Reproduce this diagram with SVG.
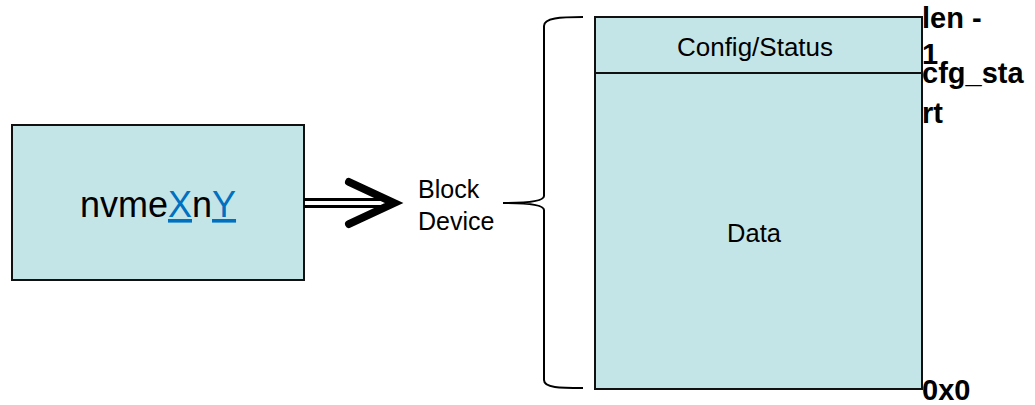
<svg xmlns="http://www.w3.org/2000/svg" width="1035" height="405" viewBox="0 0 1035 405">
  <style>
    .box { fill: #c4e5e8; stroke: #111; stroke-width: 2; }
    .lbl { font-family: "Liberation Sans", Arial, sans-serif; fill: #000; }
    .addr { font-family: "Liberation Sans", Arial, sans-serif; font-weight: bold; font-size: 29px; fill: #000; }
    .link { fill: #0070c0; }
  </style>
  <rect width="1035" height="405" fill="#fff"/>

  <!-- device node -->
  <g id="nvme-device">
    <rect class="box" x="12" y="125" width="292" height="155"/>
    <text class="lbl" x="158" y="217" font-size="36" text-anchor="middle">nvme<tspan class="link" text-decoration="underline">X</tspan>n<tspan class="link" text-decoration="underline">Y</tspan></text>
  </g>

  <!-- connectors -->
  <g id="connectors" fill="none" stroke="#000">
    <line x1="304" y1="199.5" x2="386" y2="199.5" stroke-width="3"/>
    <line x1="304" y1="206.5" x2="386" y2="206.5" stroke-width="3"/>
    <polyline points="349,182 394,203 349,224" stroke-width="8" stroke-linecap="round" stroke-linejoin="miter"/>
    <!-- brace spanning the block device layout -->
    <path d="M583,17 C560,17 544,18 544,26 L544,196 C544,200 535,203 503,203 C535,203 544,206 544,210 L544,380 C544,388 560,388 583,388" stroke-width="2"/>
  </g>

  <g id="block-device-label">
    <text class="lbl" x="418" y="198" font-size="25">Block</text>
    <text class="lbl" x="418" y="230" font-size="25">Device</text>
  </g>

  <!-- on-disk layout -->
  <g id="layout">
    <rect class="box" x="595" y="17" width="327" height="372"/>
    <line x1="595" y1="73" x2="922" y2="73" stroke="#111" stroke-width="2"/>
    <text class="lbl" x="755" y="56" font-size="26" text-anchor="middle">Config/Status</text>
    <text class="lbl" x="754" y="242" font-size="25.5" text-anchor="middle">Data</text>
  </g>

  <g id="addresses">
    <text class="addr" x="922" y="28">len -</text>
    <text class="addr" x="922" y="64">1</text>
    <text class="addr" x="922" y="83">cfg_sta</text>
    <text class="addr" x="922" y="123">rt</text>
    <text class="addr" x="922" y="400">0x0</text>
  </g>
</svg>
